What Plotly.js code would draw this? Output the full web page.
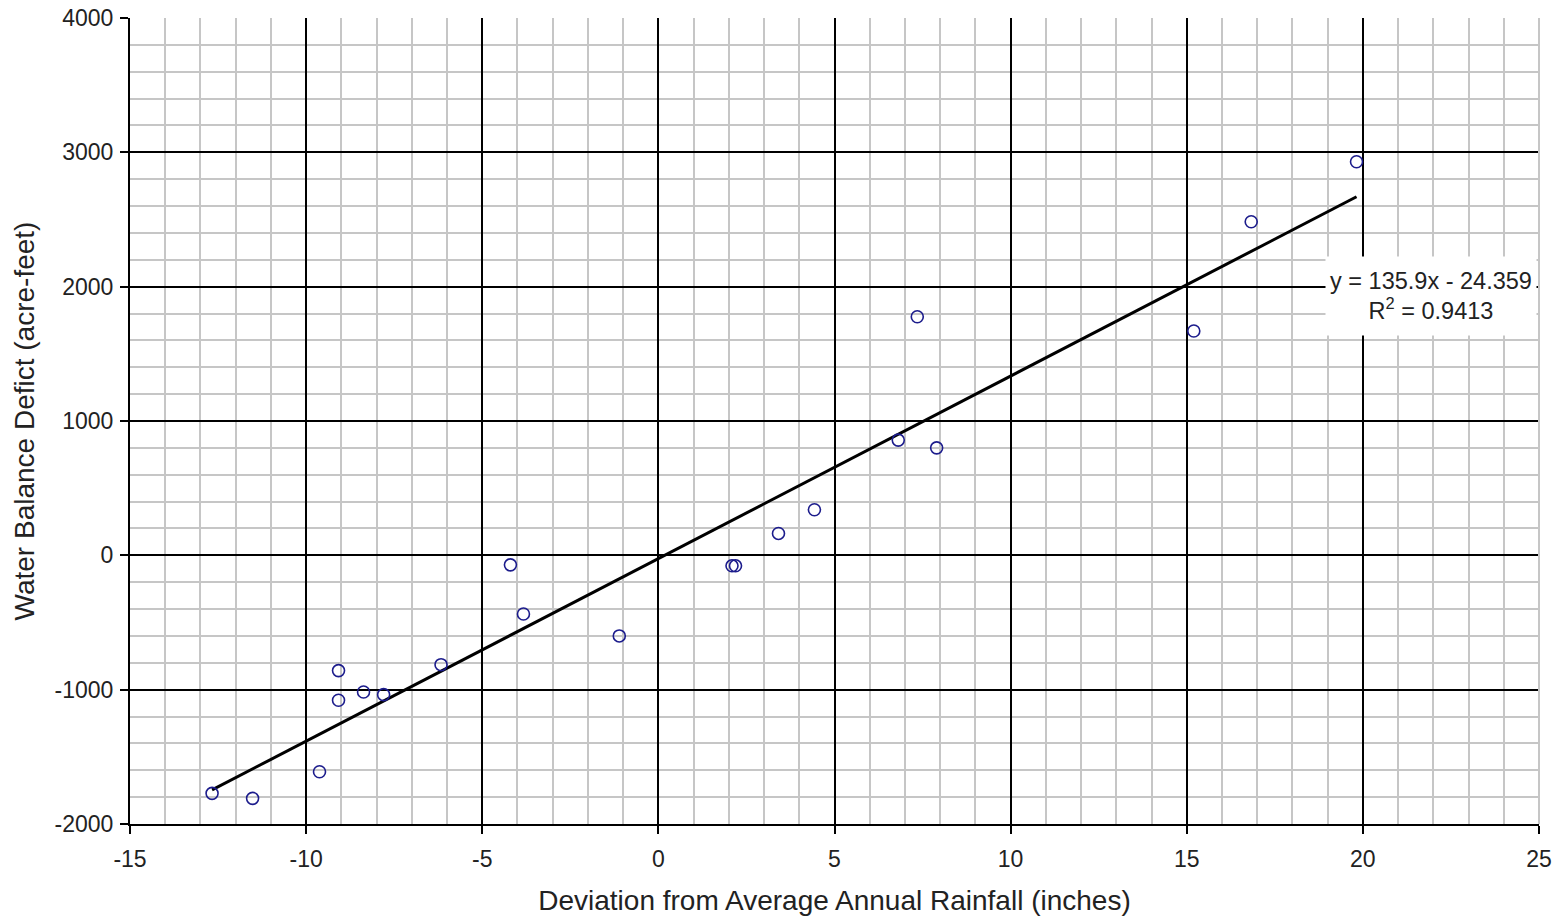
<!DOCTYPE html>
<html>
<head>
<meta charset="utf-8">
<script src="https://cdn.plot.ly/plotly-3.0.1.min.js"></script>
<style>html,body{margin:0;padding:0;background:#fff;}#chart{width:1559px;height:921px;}</style>
</head>
<body>
<div id="chart"></div>
<script>
const rainfallDeviation = [-12.67, -11.52, -9.62, -9.08, -9.08, -8.37, -7.80, -6.17, -4.20, -3.83, -1.11, 2.09, 2.19, 3.41, 4.43, 6.81, 7.35, 7.90, 15.20, 16.83, 19.82];
const waterDeficit = [-1772, -1809, -1611, -858, -1079, -1017, -1037, -814, -71, -437, -600, -78, -78, 163, 339, 858, 1776, 800, 1670, 2483, 2930];
const trendSlope = 135.9;
const trendIntercept = -24.359;
const xTickVals = [-15, -10, -5, 0, 5, 10, 15, 20, 25];
const yTickVals = [-2000, -1000, 0, 1000, 2000, 3000, 4000];
const equationText = 'y = 135.9x - 24.359<br>R<sup>2</sup> = 0.9413';

const xMin = Math.min(...rainfallDeviation);
const xMax = Math.max(...rainfallDeviation);
const trendX = [xMin, xMax];
const trendY = trendX.map(v => trendSlope * v + trendIntercept);

const font = {family: 'Liberation Sans, Arial, sans-serif', color: '#222', size: 22};

const data = [
  {
    x: trendX, y: trendY, type: 'scatter', mode: 'lines',
    line: {color: '#000', width: 3}, hoverinfo: 'skip', showlegend: false
  },
  {
    x: rainfallDeviation, y: waterDeficit, type: 'scatter', mode: 'markers',
    marker: {symbol: 'circle-open', size: 12, color: '#1c1c8c', line: {width: 1.6, color: '#1c1c8c'}},
    showlegend: false
  }
];

const layout = {
  width: 1559, height: 921,
  margin: {l: 130, r: 20, t: 18, b: 97},
  paper_bgcolor: '#fff', plot_bgcolor: '#fff',
  font: font,
  xaxis: {
    range: [-15, 25], tickvals: xTickVals, ticktext: xTickVals.map(String),
    showgrid: true, gridcolor: '#000', gridwidth: 1.5,
    minor: {dtick: 1, tick0: 0, showgrid: true, gridcolor: '#c6c6c6', gridwidth: 1.8, ticks: ''},
    showline: true, linecolor: '#000', linewidth: 2,
    ticks: 'outside', ticklen: 8, tickcolor: '#000', tickwidth: 2,
    ticklabelstandoff: 5,
    zeroline: false, tickfont: {size: 23},
    title: {text: 'Deviation from Average Annual Rainfall (inches)', font: {size: 28}, standoff: 20}
  },
  yaxis: {
    range: [-2000, 4000], tickvals: yTickVals, ticktext: yTickVals.map(String),
    showgrid: true, gridcolor: '#000', gridwidth: 1.5,
    minor: {dtick: 200, tick0: 0, showgrid: true, gridcolor: '#c6c6c6', gridwidth: 1.8, ticks: ''},
    showline: true, linecolor: '#000', linewidth: 2,
    ticks: 'outside', ticklen: 8, tickcolor: '#000', tickwidth: 2,
    ticklabelstandoff: 2,
    zeroline: false, tickfont: {size: 23},
    title: {text: 'Water Balance Defict (acre-feet)', font: {size: 28}, standoff: 12}
  },
  shapes: [
    {type: 'line', xref: 'paper', yref: 'paper', x0: 1, x1: 1, y0: 0, y1: 1,
     line: {color: '#c6c6c6', width: 2}, layer: 'above'}
  ],
  annotations: [
    {
      x: 21.92, y: 1934, xref: 'x', yref: 'y', text: equationText, showarrow: false,
      font: {size: 23.5, color: '#222'}, bgcolor: '#fff', borderpad: 0,
      width: 210, height: 78, align: 'center'
    }
  ]
};

Plotly.newPlot('chart', data, layout, {displayModeBar: false, responsive: false});
</script>
</body>
</html>
